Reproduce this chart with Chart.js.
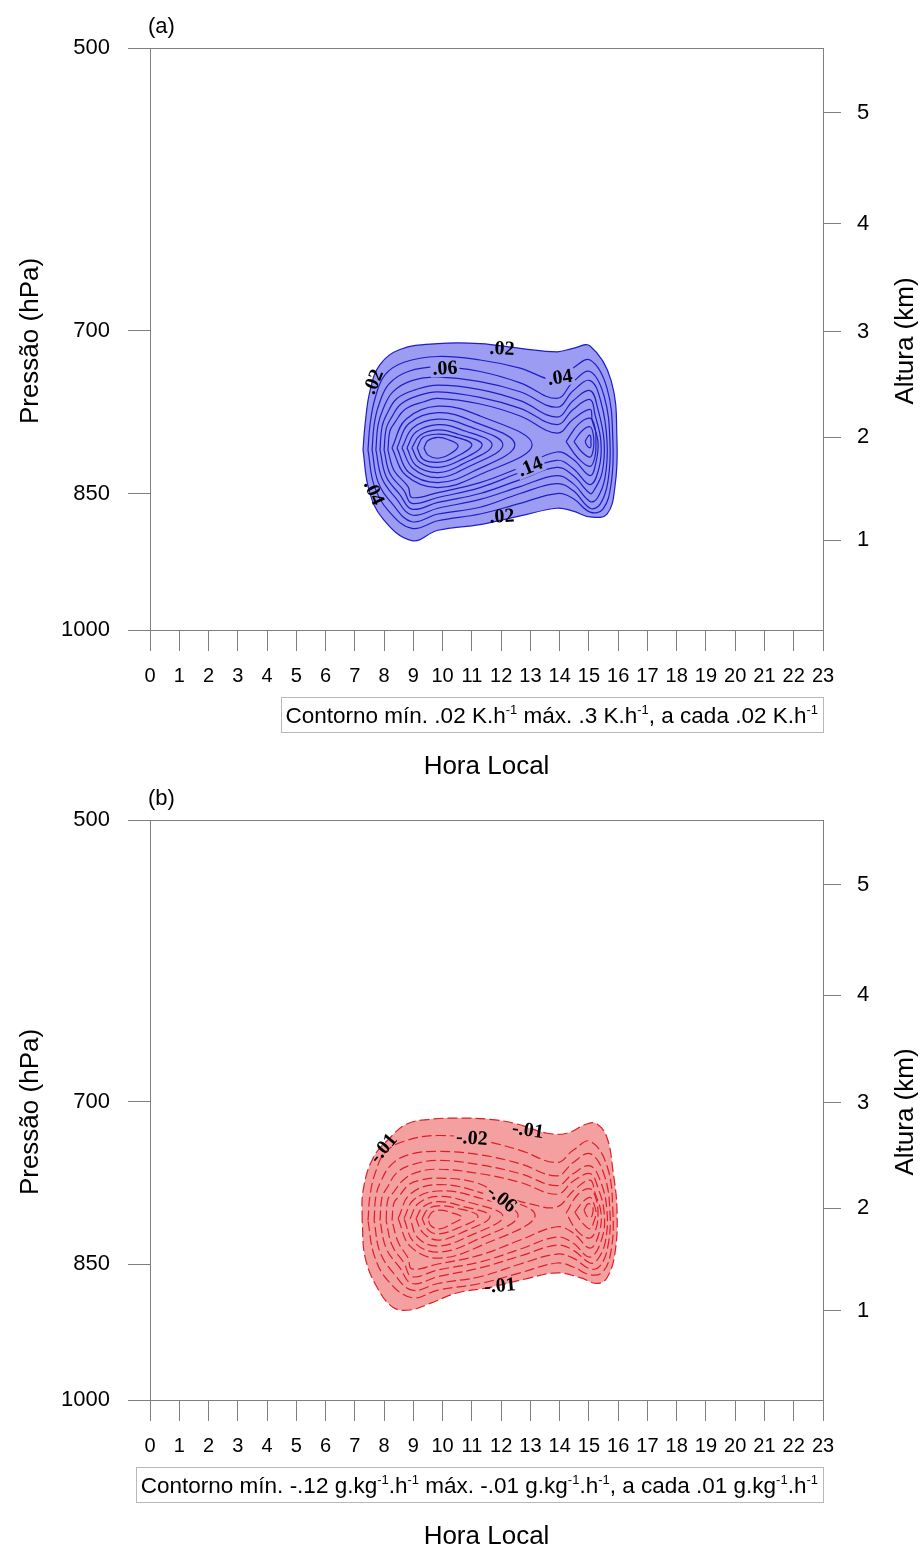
<!DOCTYPE html>
<html>
<head>
<meta charset="utf-8">
<title>Contornos - Hora Local</title>
<script src="https://cdn.jsdelivr.net/npm/chart.js@4.4.0/dist/chart.umd.min.js"></script>
<style>
  html, body { margin: 0; padding: 0; background: #fff; }
  #wrap { position: relative; width: 923px; height: 1554px; }
  canvas { position: absolute; left: 0; }
</style>
</head>
<body>
<div id="wrap">
  <canvas id="chartA" width="923" height="785" style="top:0px"></canvas>
  <canvas id="chartB" width="923" height="769" style="top:785px"></canvas>
</div>
<script>
Chart.defaults.font.family = "'Liberation Sans', Arial, Helvetica, sans-serif";
Chart.defaults.color = '#000';

// axis ticks
const hours = [0, 1, 2, 3, 4, 5, 6, 7, 8, 9, 10, 11, 12, 13, 14, 15, 16, 17, 18, 19, 20, 21, 22, 23];
const pressureTicks = [500, 700, 850, 1000];
const heightKm = [1, 2, 3, 4, 5];
const heightHPa = [898.7, 795.0, 701.1, 616.4, 540.2]; // pressure of each height tick

// (a) heating contours, [hora, hPa]
const a02 = [[7.28,807],[7.35,783],[7.52,752],[7.86,729],[8.54,716],[9.84,711],[11.28,711],[12.65,715],[13.91,718],[14.46,715],[15.04,713],[15.76,743],[15.96,799],[15.89,843],[15.62,871],[15.04,874],[14.46,868],[13.91,865],[12.65,873],[11.28,882],[9.84,888],[8.95,899],[7.96,876],[7.48,846]];
const a04 = [[7.45,807],[7.52,783],[7.69,759],[8.03,738],[8.68,727],[9.84,722],[11.28,725],[12.65,732],[13.91,743],[14.46,732],[15.04,725],[15.62,750],[15.82,799],[15.76,840],[15.48,866],[15.04,869],[14.46,855],[13.91,850],[12.65,860],[11.28,871],[9.84,878],[8.95,886],[8.13,867],[7.66,842]];
const a06 = [[7.59,807],[7.66,783],[7.83,764],[8.17,746],[8.82,735],[9.84,731],[11.28,735],[12.65,745],[13.91,759],[14.46,744],[15.04,735],[15.52,757],[15.72,799],[15.65,838],[15.38,861],[15.04,865],[14.46,847],[13.91,840],[12.65,850],[11.28,864],[9.84,871],[8.95,879],[8.27,860],[7.79,838]];
const a08 = [[7.72,807],[7.79,784],[7.96,769],[8.30,753],[8.95,743],[9.84,740],[11.28,744],[12.65,753],[13.91,767],[14.46,752],[15.04,743],[15.41,762],[15.62,799],[15.55,834],[15.28,855],[15.04,858],[14.46,840],[13.91,832],[12.65,843],[11.28,856],[9.84,865],[8.95,872],[8.41,855],[7.93,835]];
const a10 = [[7.86,807],[7.93,785],[8.10,773],[8.44,759],[9.09,751],[9.84,747],[11.28,751],[12.65,761],[13.91,776],[14.46,761],[15.04,752],[15.31,769],[15.52,799],[15.45,829],[15.17,847],[15.04,850],[14.46,832],[13.91,824],[12.65,836],[11.28,850],[9.84,859],[8.95,866],[8.54,851],[8.07,833]];
const a12 = [[8.00,807],[8.07,787],[8.24,777],[8.58,764],[9.23,756],[9.84,753],[11.28,758],[12.65,768],[13.91,783],[14.46,769],[15.04,760],[15.21,774],[15.41,799],[15.35,824],[15.04,841],[14.46,825],[13.91,817],[12.65,829],[11.28,844],[9.84,854],[8.95,860],[8.68,847],[8.20,830]];
const a14 = [[8.13,807],[8.20,789],[8.37,781],[8.71,769],[9.36,762],[9.84,759],[11.28,764],[12.65,775],[13.91,791],[14.46,778],[15.04,769],[15.11,779],[15.31,799],[15.24,819],[15.04,832],[14.46,816],[13.91,809],[12.65,824],[11.28,839],[9.84,849],[8.95,854],[8.82,843],[8.34,827]];
const aR16 = [[14.22,799],[14.63,783],[15.04,777],[15.21,786],[15.24,799],[15.21,813],[15.04,823],[14.63,815]];
const aR18 = [[14.49,799],[14.76,789],[15.04,785],[15.14,791],[15.17,799],[15.14,808],[15.04,814],[14.76,809]];
const aR20 = [[14.87,799],[14.97,794],[15.04,793],[15.07,796],[15.07,799],[15.07,803],[15.04,805],[14.94,803]];
const aM16 = [[8.27,805],[8.75,778],[9.84,766],[11.28,775],[13.06,802],[11.28,831],[9.84,844],[8.75,832]];
const aM18 = [[8.44,805],[8.85,782],[9.84,772],[11.04,780],[12.47,802],[11.04,828],[9.84,839],[8.85,829]];
const aM20 = [[8.61,805],[8.99,786],[9.84,778],[10.83,784],[12.06,802],[10.83,824],[9.84,834],[8.99,825]];
const aM22 = [[8.78,805],[9.09,790],[9.84,783],[10.66,788],[11.69,802],[10.66,821],[9.84,829],[9.09,822]];
const aM24 = [[8.95,805],[9.23,793],[9.84,788],[10.53,792],[11.35,802],[10.53,818],[9.84,824],[9.23,819]];
const aM26 = [[9.13,805],[9.33,795],[9.84,792],[10.36,794],[11.00,802],[10.36,815],[9.84,819],[9.33,816]];
const aM28 = [[9.36,805],[9.50,798],[9.84,795],[10.18,797],[10.53,803],[10.25,811],[9.84,815],[9.50,812]];

// (b) moisture contours, [hora, hPa]
const b01 = [[7.25,807],[7.28,779],[7.62,749],[8.20,731],[8.78,719],[9.57,715],[10.49,714],[11.62,715],[12.54,719],[13.57,727],[14.25,727],[14.93,719],[15.28,719],[15.62,731],[15.82,760],[15.96,797],[15.89,839],[15.62,864],[15.28,870],[14.70,864],[13.91,859],[12.88,865],[11.62,874],[10.49,880],[9.57,891],[8.89,898],[8.30,895],[7.76,874],[7.35,843]];
const b02 = [[7.45,807],[7.52,783],[7.69,763],[8.03,744],[8.68,734],[9.84,729],[11.28,733],[12.65,742],[13.91,753],[14.46,742],[15.04,734],[15.62,756],[15.82,799],[15.76,836],[15.48,858],[15.04,861],[14.46,853],[13.91,849],[12.65,859],[11.28,870],[9.84,877],[8.95,885],[8.13,867],[7.66,841]];
const b03 = [[7.66,807],[7.72,784],[7.89,770],[8.24,755],[8.82,746],[9.84,743],[11.28,746],[12.65,754],[13.91,765],[14.46,753],[15.04,745],[15.52,764],[15.72,799],[15.65,832],[15.38,852],[15.04,855],[14.46,844],[13.91,840],[12.65,850],[11.28,863],[9.84,870],[8.95,877],[8.34,860],[7.86,838]];
const b04 = [[7.86,807],[7.93,785],[8.10,776],[8.44,762],[8.95,755],[9.84,751],[11.28,755],[12.65,763],[13.91,774],[14.46,763],[15.04,756],[15.41,771],[15.62,799],[15.55,829],[15.28,846],[15.04,849],[14.46,836],[13.91,831],[12.65,842],[11.28,854],[9.84,863],[8.95,870],[8.54,854],[8.07,834]];
const b05 = [[8.07,807],[8.13,787],[8.30,781],[8.65,769],[9.09,762],[9.84,759],[11.28,763],[12.65,771],[13.91,782],[14.46,770],[15.04,763],[15.31,776],[15.52,799],[15.45,824],[15.04,843],[14.46,829],[13.91,823],[12.65,835],[11.28,848],[9.84,856],[8.95,863],[8.68,849],[8.27,831]];
const b06 = [[8.27,807],[8.34,790],[8.51,784],[8.85,773],[9.23,769],[9.84,767],[11.11,771],[12.13,784],[12.99,791],[13.91,794],[14.46,779],[15.04,769],[15.21,781],[15.41,799],[15.35,819],[15.04,834],[14.46,819],[13.91,813],[12.65,826],[11.28,841],[9.84,850],[8.95,855],[8.82,844],[8.48,828]];
const bR07 = [[14.22,800],[14.63,782],[15.04,777],[15.24,786],[15.31,800],[15.24,815],[15.04,824],[14.63,818]];
const bR08 = [[14.52,799],[14.80,789],[15.04,785],[15.17,791],[15.24,799],[15.17,808],[15.04,815],[14.80,810]];
const bR09 = [[14.83,797],[14.97,791],[15.11,793],[15.14,798],[15.07,804],[14.94,803]];
const bM07 = [[8.48,805],[8.89,782],[9.84,773],[11.35,781],[13.16,802],[11.35,831],[9.84,844],[8.89,832]];
const bM08 = [[8.68,805],[9.02,787],[9.84,779],[11.07,784],[12.58,802],[11.07,827],[9.84,838],[9.02,828]];
const bM09 = [[8.89,805],[9.16,791],[9.84,784],[10.83,789],[12.06,803],[10.83,823],[9.84,832],[9.16,824]];
const bM10 = [[9.09,805],[9.33,794],[9.84,789],[10.63,793],[11.62,803],[10.63,819],[9.84,826],[9.33,819]];
const bM11 = [[9.30,805],[9.50,796],[9.84,793],[10.46,795],[11.21,803],[10.46,815],[9.84,820],[9.50,816]];
const bM12 = [[9.50,805],[9.64,799],[9.91,797],[10.25,799],[10.66,804],[10.32,810],[9.91,815],[9.60,812]];

// contour labels: text, hora, hPa, angle, break the lines under it
const labelsA = [
  ['.02', 12.03, 715, 3, false],
  ['.06', 10.08, 732, -3, true],
  ['.04', 14.01, 740, -8, true],
  ['.02', 7.62, 744, -68, false],
  ['.04', 7.66, 849, 66, false],
  ['.14', 12.99, 823, -22, true],
  ['.02', 12.03, 873, -3, false]
];
const labelsB = [
  ['-.01', 7.96, 740, -50, false],
  ['-.02', 11.00, 731, 4, true],
  ['-.01', 12.92, 724, 8, false],
  ['-.06', 12.03, 786, 38, true],
  ['-.01', 11.96, 872, -5, false]
];

// info box text, 1 = superscript
const noteA = [['Contorno mín. .02 K.h', 0], ['-1', 1], [' máx. .3 K.h', 0], ['-1', 1], [', a cada .02 K.h', 0], ['-1', 1]];
const noteB = [['Contorno mín. -.12 g.kg', 0], ['-1', 1], ['.h', 0], ['-1', 1], [' máx. -.01 g.kg', 0], ['-1', 1], ['.h', 0], ['-1', 1], [', a cada .01 g.kg', 0], ['-1', 1], ['.h', 0], ['-1', 1]];

const AXIS = '#7f7f7f';
const SANS = "'Liberation Sans', Arial, Helvetica, sans-serif";

function ringData(ring) {
  const pts = ring.map(([h, p]) => ({ x: h, y: p }));
  pts.push(pts[0]); // close the contour
  return pts;
}

function buildChart(id, cfg) {
  const datasets = cfg.rings.map((ring, i) => ({
    data: ringData(ring),
    showLine: true,
    tension: 0.4,
    pointRadius: 0,
    borderColor: cfg.line,
    borderWidth: 1.2,
    borderDash: cfg.dash,
    fill: i === 0 ? 'shape' : false,
    backgroundColor: cfg.fill
  }));

  const overlay = {
    id: 'overlay',
    afterDraw(chart) {
      const { ctx, chartArea: a, scales } = chart;
      ctx.save();

      // frame
      ctx.strokeStyle = AXIS;
      ctx.lineWidth = 1;
      ctx.strokeRect(a.left + 0.5, a.top + 0.5, a.right - a.left, a.bottom - a.top);

      // contour line labels
      ctx.font = "bold 20px 'Liberation Serif', 'Times New Roman', serif";
      ctx.textAlign = 'center';
      ctx.textBaseline = 'middle';
      cfg.labels.forEach(([txt, h, p, ang, bg]) => {
        ctx.save();
        ctx.translate(scales.x.getPixelForValue(h), scales.y.getPixelForValue(p));
        ctx.rotate(ang * Math.PI / 180);
        if (bg) {
          const w = ctx.measureText(txt).width + 4;
          ctx.fillStyle = cfg.fill;
          ctx.fillRect(-w / 2, -8, w, 17);
        }
        ctx.fillStyle = '#000';
        ctx.fillText(txt, 0, 1);
        ctx.restore();
      });

      // panel tag
      ctx.fillStyle = '#000';
      ctx.font = '22px ' + SANS;
      ctx.textAlign = 'left';
      ctx.fillText(cfg.tag, a.left - 2, a.top - 21);

      // axis titles
      const midY = (a.top + a.bottom) / 2 + 2;
      ctx.font = '26px ' + SANS;
      ctx.textAlign = 'center';
      [[31, 'Pressão (hPa)'], [906, 'Altura (km)']].forEach(([x, t]) => {
        ctx.save();
        ctx.translate(x, midY);
        ctx.rotate(-Math.PI / 2);
        ctx.fillText(t, 0, 0);
        ctx.restore();
      });
      ctx.fillText('Hora Local', (a.left + a.right) / 2, a.bottom + 137);

      // info box
      const mainFont = '22.5px ' + SANS, supFont = '13px ' + SANS;
      let total = 0;
      cfg.note.forEach(([t, s]) => {
        ctx.font = s ? supFont : mainFont;
        total += ctx.measureText(t).width;
      });
      const boxTop = a.bottom + 67;
      let x = a.right - 5 - total;
      const boxLeft = Math.round(x - 5);
      ctx.strokeStyle = '#b8b8b8';
      ctx.strokeRect(boxLeft + 0.5, boxTop + 0.5, a.right - boxLeft, 35);
      ctx.textAlign = 'left';
      ctx.textBaseline = 'alphabetic';
      cfg.note.forEach(([t, s]) => {
        ctx.font = s ? supFont : mainFont;
        ctx.fillText(t, x, boxTop + 26 - (s ? 9 : 0));
        x += ctx.measureText(t).width;
      });
      ctx.restore();
    }
  };

  return new Chart(document.getElementById(id), {
    type: 'scatter',
    data: { datasets },
    options: {
      responsive: false,
      animation: false,
      events: [],
      devicePixelRatio: 1,
      layout: { padding: { top: cfg.top, left: 0, right: 0, bottom: 0 } },
      plugins: {
        legend: { display: false },
        tooltip: { enabled: false },
        filler: { drawTime: 'beforeDatasetsDraw' }
      },
      scales: {
        x: {
          type: 'linear',
          position: 'bottom',
          min: 0,
          max: 23,
          afterBuildTicks: s => { s.ticks = hours.map(v => ({ value: v })); },
          afterFit: s => { s.height = cfg.axisH; },
          ticks: { autoSkip: false, maxRotation: 0, padding: 13, font: { size: 20 }, color: '#000' },
          grid: { drawOnChartArea: false, drawTicks: true, tickLength: 21, color: AXIS },
          border: { display: true, color: AXIS }
        },
        y: {
          type: 'logarithmic',
          position: 'left',
          reverse: true,
          min: 500,
          max: 1000,
          afterBuildTicks: s => { s.ticks = pressureTicks.map(v => ({ value: v })); },
          afterFit: s => { s.width = 150; },
          ticks: { autoSkip: false, padding: 18, font: { size: 22 }, color: '#000', callback: v => String(v) },
          grid: { drawOnChartArea: false, drawTicks: true, tickLength: 22, color: AXIS },
          border: { display: true, color: AXIS }
        },
        y2: {
          type: 'logarithmic',
          position: 'right',
          reverse: true,
          min: 500,
          max: 1000,
          afterBuildTicks: s => { s.ticks = heightHPa.map(v => ({ value: v })); },
          afterFit: s => { s.width = 100; },
          ticks: { autoSkip: false, padding: 16, font: { size: 22 }, color: '#000', callback: (v, i) => String(heightKm[i]) },
          grid: { drawOnChartArea: false, drawTicks: true, tickLength: 18, color: AXIS },
          border: { display: true, color: AXIS }
        }
      }
    },
    plugins: [overlay]
  });
}

buildChart('chartA', {
  rings: [a02, a04, a06, a08, a10, a12, a14, aR16, aR18, aR20, aM16, aM18, aM20, aM22, aM24, aM26, aM28],
  labels: labelsA,
  note: noteA,
  tag: '(a)',
  fill: '#9c9cf2',
  line: '#1e1ec8',
  dash: [],
  top: 48,
  axisH: 155
});

buildChart('chartB', {
  rings: [b01, b02, b03, b04, b05, b06, bR07, bR08, bR09, bM07, bM08, bM09, bM10, bM11, bM12],
  labels: labelsB,
  note: noteB,
  tag: '(b)',
  fill: '#f5a0a0',
  line: '#de1e28',
  dash: [10, 4],
  top: 35,
  axisH: 154
});
</script>
</body>
</html>
